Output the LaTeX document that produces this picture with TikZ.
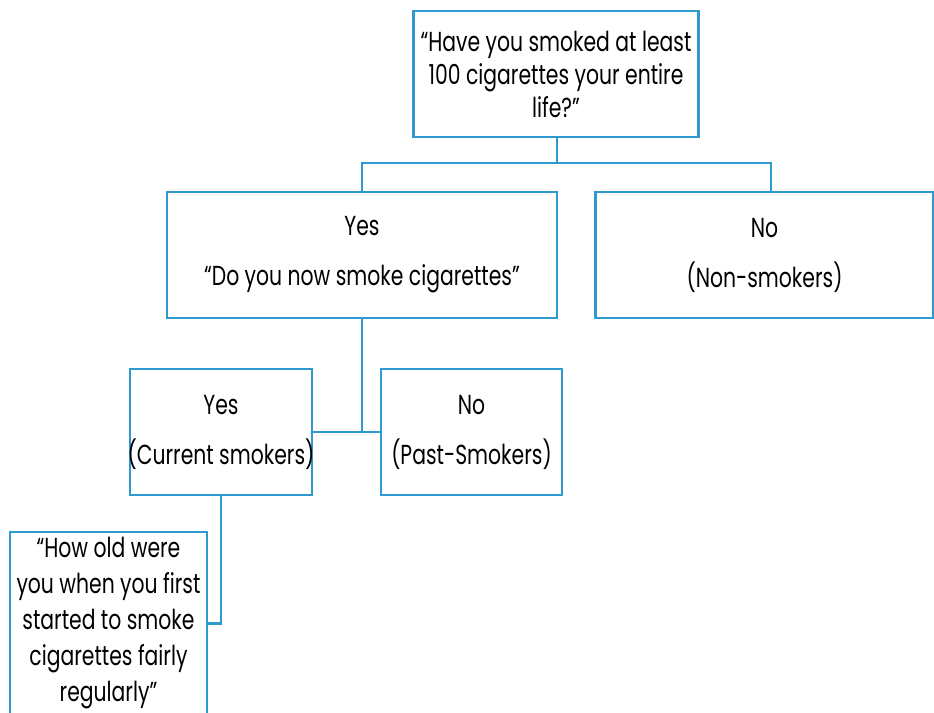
\documentclass[tikz,border=0pt]{standalone}
\usepackage{fontspec}
\setmainfont{Poppins}[FakeStretch=0.74]
\definecolor{lineblue}{HTML}{2E9AD0}
\begin{document}
\begin{tikzpicture}[x=1pt,y=-1pt,
  box/.style={draw=lineblue,line width=2.8pt,align=center,inner sep=0pt,
    font=\fontsize{27.5}{33}\selectfont,text=black},
  conn/.style={draw=lineblue,line width=2.8pt}]
\useasboundingbox (0,0) rectangle (934,712);
\clip (0,0) rectangle (934,712);
\node[box,minimum width=285pt,minimum height=126pt] (top) at (556,74)
  {“Have you smoked at least\\100 cigarettes your entire\\life?”};
\node[box,minimum width=390pt,minimum height=126pt] (yes) at (362,255)
  {Yes\\[17pt]“Do you now smoke cigarettes”};
\node[box,minimum width=338pt,minimum height=126pt] (no) at (764.5,255)
  {No\\[17pt](Non-smokers)};
\node[box,minimum width=182pt,minimum height=126pt] (cur) at (221,432)
  {Yes\\[17pt]\makebox[170pt]{(Current smokers)}};
\node[box,minimum width=181pt,minimum height=126pt] (past) at (471.5,432)
  {No\\[17pt](Past-Smokers)};
\node[box,minimum width=197pt,minimum height=183pt,
  font=\fontsize{27.5}{36}\selectfont] (q) at (108.5,623.5)
  {“How old were\\you when you first\\started to smoke\\cigarettes fairly\\regularly”};
\coordinate (j1) at (557,163);
\draw[conn] (top.south -| j1) -- (j1);
\draw[conn] (yes.north) |- (j1) -| ([xshift=6.5pt]no.north);
\draw[conn] (yes.south) -- (yes.south |- cur.east);
\draw[conn] (cur.east) -- (past.west);
\draw[conn] (cur.south) |- (q.east);
\end{tikzpicture}
\end{document}
